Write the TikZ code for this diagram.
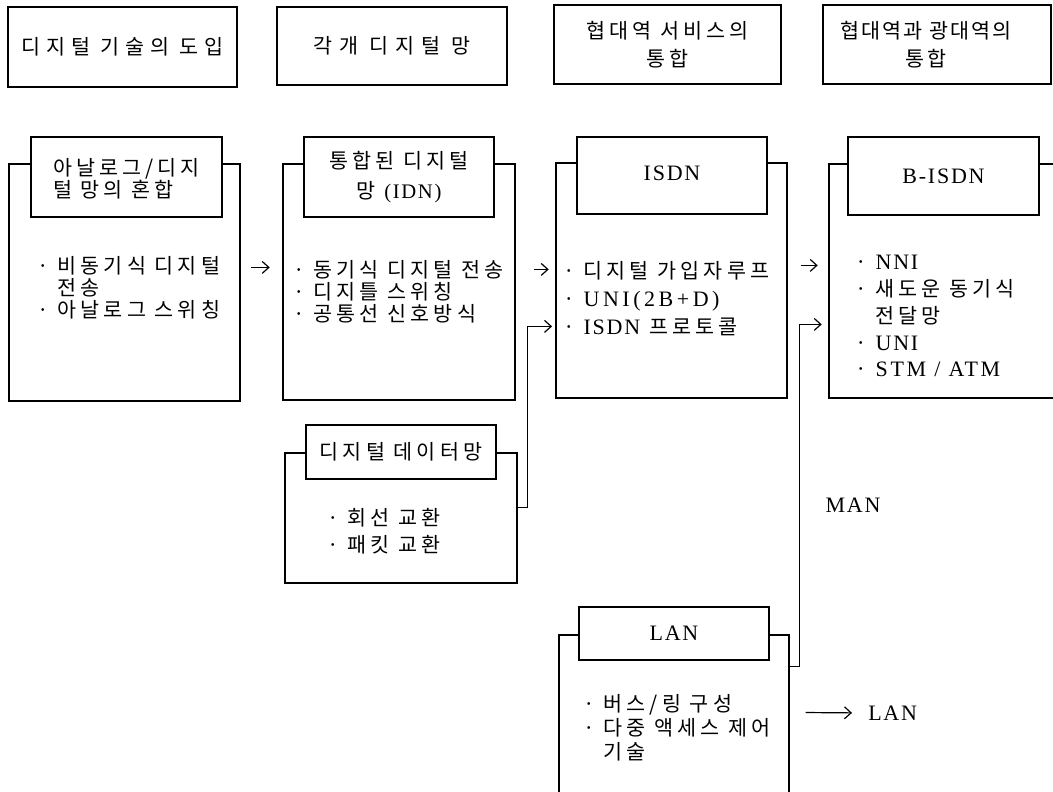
\documentclass[tikz,border=0pt]{standalone}
\usepackage{fontspec}
\setmainfont{Noto Sans CJK KR}[LetterSpace=20]
\newfontfamily\lat{Liberation Serif}[LetterSpace=8]
\usetikzlibrary{fit,calc,arrows.meta}

\begin{document}
\begin{tikzpicture}[x=0.75pt, y=-0.75pt,
    every node/.style={font=\fontsize{15.5pt}{18pt}\selectfont},
    frame/.style={draw, line width=0.9pt, inner sep=0pt},
    head/.style={draw, line width=0.9pt, inner sep=0pt},
    title/.style={draw, fill=white, line width=0.9pt, inner sep=0pt},
    body/.style={anchor=west, align=left, inner sep=0pt},
    arr/.style={-{Straight Barb[length=5pt,width=9pt]}, line width=0.9pt}]
    \useasboundingbox (0,0) rectangle (1053,792);
    \clip (0,0) rectangle (1053,792);
    % stages
    \node[head, fit={(8,7) (237,87)}] (h1) {};
    \node[head, fit={(277,7) (507,85)}] (h2) {};
    \node[head, fit={(554,5) (781,84)}] (h3) {};
    \node[head, fit={(823,5) (1051,84)}] (h4) {};
    \node (h1txt) at (h1) {\addfontfeature{LetterSpace=28}디지털 기술의 도입};
    \node (h2txt) at (h2) {\addfontfeature{LetterSpace=33}각개 디지털 망};
    \node[align=center, font=\fontsize{15.5pt}{21pt}\selectfont] (h3txt) at (h3) {협대역 서비스의\\통합};
    \node[align=center, font=\fontsize{15.5pt}{21pt}\selectfont\addfontfeature{LetterSpace=10}] (h4txt) at ($(h4)+(-11,0)$) {협대역과 광대역의\\통합};
    % networks
    \node[frame, fit={(9,164) (240,401)}] (B1) {};
    \node[title, fit={(31,137) (222,217)}] (t1) {};
    \node[align=left, font=\fontsize{15.5pt}{16.5pt}\selectfont] (t1txt) at ($(t1)+(0,2)$) {아날로그/디지\\털 망의 혼합};
    \node[body, font=\fontsize{15.5pt}{16.5pt}\selectfont] (b1txt) at (37,288) {· 비동기식 디지털\\\phantom{· }전송\\· 아날로그 스위칭};

    \node[frame, fit={(283,164) (515,400)}] (B2) {};
    \node[title, fit={(304,137) (494,217)}] (t2) {};
    \node[align=center, font=\fontsize{15.5pt}{23pt}\selectfont] (t2txt) at (t2) {통합된 디지털\\망 {\lat (IDN)}};
    \node[body, font=\fontsize{15.5pt}{16.5pt}\selectfont] (b2txt) at (293,291.5) {· 동기식 디지털 전송\\· 디지틀 스위칭\\· 공통선 신호방식};

    \node[frame, fit={(556,163) (787,398)}] (B3) {};
    \node[title, fit={(577,137) (767,214)}] (t3) {};
    \node (t3txt) at ($(t3)+(0,-2)$) {\lat\fontsize{16.5pt}{18pt}\selectfont ISDN};
    \node[body, font=\fontsize{15.5pt}{21pt}\selectfont] (b3txt) at (563,299) {· 디지털 가입자루프\\· {\lat\fontsize{16.5pt}{18pt}\selectfont\addfontfeature{LetterSpace=16}UNI(2B+D)}\\· {\lat\fontsize{16.5pt}{18pt}\selectfont ISDN} 프로토콜};

    \node[frame, fit={(829,164) (1062,398)}] (B4) {};
    \node[title, fit={(848,137) (1039,215)}] (t4) {};
    \node (t4txt) at (t4) {\lat\fontsize{16.5pt}{18pt}\selectfont B-ISDN};
    \node[body, font=\fontsize{15.5pt}{20.2pt}\selectfont] (b4txt) at (855,316) {· {\lat\fontsize{16.5pt}{18pt}\selectfont NNI}\\· 새도운 동기식\\\phantom{· }전달망\\· {\lat\fontsize{16.5pt}{18pt}\selectfont UNI}\\· {\lat\fontsize{16.5pt}{18pt}\selectfont\addfontfeature{LetterSpace=12}STM / ATM}};

    \node[frame, fit={(285,453) (517,583)}] (D) {};
    \node[title, fit={(306,425) (496,479)}] (tD) {};
    \node (tDtxt) at (tD) {디지털 데이터망};
    \node[body, font=\fontsize{15.5pt}{20pt}\selectfont] (dtxt) at (327,531.5) {· 회선 교환\\· 패킷 교환};

    \node[frame, fit={(559,635) (789,810)}] (L) {};
    \node[title, fit={(579,607) (769,660)}] (tL) {};
    \node (tLtxt) at (tL) {\lat\fontsize{16.5pt}{18pt}\selectfont LAN};
    \node[body, font=\fontsize{15.5pt}{18pt}\selectfont] (ltxt) at (583,728) {· 버스/링 구성\\· 다중 액세스 제어\\\phantom{· }기술};

    \node[inner sep=0pt] (man) at (853,505) {\lat\fontsize{16.5pt}{18pt}\selectfont MAN};
    \node[inner sep=0pt, anchor=west] (lanout) at (868,713) {\lat\fontsize{16.5pt}{18pt}\selectfont LAN};
    % arrows
    \draw[arr, shorten <=8pt, shorten >=9.5pt] ($(B1.north east)+(0,104)$) -- ($(B2.north west)+(0,104)$);
    \draw[arr, shorten <=13.5pt, shorten >=5pt] ($(B2.north east)+(0,106)$) -- ($(B3.north west)+(0,107)$);
    \draw[arr, shorten <=10pt, shorten >=8pt] ($(B3.north east)+(0,103)$) -- ($(B4.north west)+(0,102)$);
    \draw[arr, shorten >=2.5pt] ($(D.north east)+(0,55)$) -- ++(10,0) |- ($(B3.north west)+(0,164)$);
    \draw[arr, shorten >=5pt] ($(L.north east)+(0,32)$) -- ++(10,0) |- ($(B4.north west)+(0,161)$);
    \draw[arr, shorten <=12pt, shorten >=12pt] ($(L.north east)+(0,78)$) -- (lanout.west);
\end{tikzpicture}
\end{document}
